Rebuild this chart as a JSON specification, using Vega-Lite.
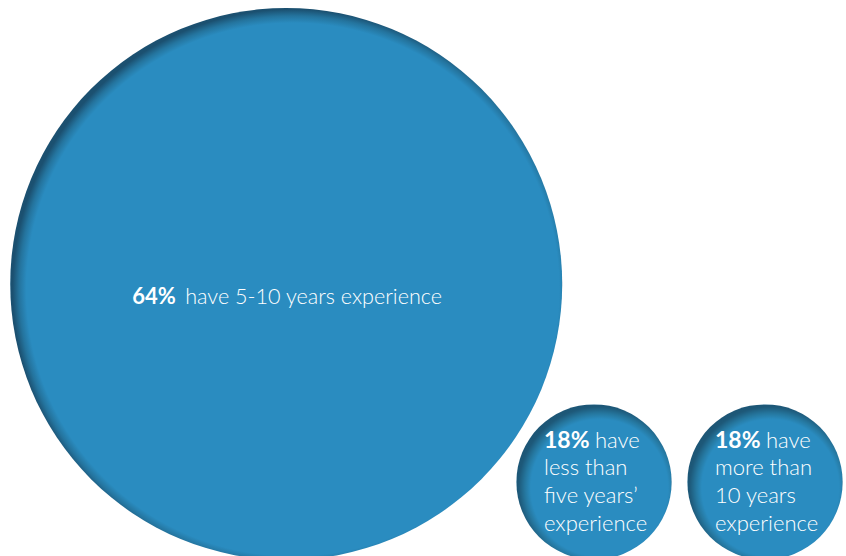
{
  "$schema": "https://vega.github.io/schema/vega-lite/v6.json",
  "width": 846,
  "height": 556,
  "padding": 0,
  "autosize": {"type": "none"},
  "background": "white",
  "config": {"view": {"stroke": null}},
  "data": {"values": [
    {"group": "5-10 years", "percent": 64, "pct": "64%", "head": "have 5-10 years experience", "body": ""},
    {"group": "less than 5 years", "percent": 18, "pct": "18%", "head": "have", "body": "less than\nfive years’\nexperience"},
    {"group": "more than 10 years", "percent": 18, "pct": "18%", "head": "have", "body": "more than\n10 years\nexperience"}
  ]},
  "encoding": {
    "y": {"field": "percent", "type": "quantitative", "scale": {"domain": [0.81, 129.98], "zero": false, "nice": false}, "axis": null}
  },
  "layer": [
    {
      "transform": [{"filter": "datum.percent > 50"}],
      "mark": {"type": "point", "shape": "circle", "filled": true, "opacity": 1, "strokeWidth": 0,
        "fill": {"gradient": "radial", "x1": 0.512, "y1": 0.51, "r1": 0, "x2": 0.512, "y2": 0.51, "r2": 0.53,
          "stops": [{"offset": 0, "color": "#2a8cc0"}, {"offset": 0.911, "color": "#2a8cc0"}, {"offset": 0.935, "color": "#24749e"}, {"offset": 0.958, "color": "#1b5070"}, {"offset": 1, "color": "#1b5070"}]}},
      "encoding": {
        "x": {"field": "group", "type": "nominal", "bandPosition": 0.2, "sort": ["5-10 years", "less than 5 years", "more than 10 years"], "scale": {"type": "band", "domain": ["5-10 years", "less than 5 years", "more than 10 years"], "paddingInner": 0, "paddingOuter": 0.9737, "align": 0.7568}, "axis": null},
        "size": {"field": "percent", "type": "quantitative", "scale": {"type": "pow", "exponent": 2, "domain": [0, 64], "range": [0, 304704], "zero": true}, "legend": null}
      }
    },
    {
      "transform": [{"filter": "datum.percent < 50"}],
      "mark": {"type": "point", "shape": "circle", "filled": true, "opacity": 1, "strokeWidth": 0,
        "fill": {"gradient": "radial", "x1": 0.535, "y1": 0.538, "r1": 0, "x2": 0.535, "y2": 0.538, "r2": 0.6,
          "stops": [{"offset": 0, "color": "#2a8cc0"}, {"offset": 0.737, "color": "#2a8cc0"}, {"offset": 0.8, "color": "#25779f"}, {"offset": 0.87, "color": "#1d5878"}, {"offset": 1, "color": "#1b5070"}]}},
      "encoding": {
        "x": {"field": "group", "type": "nominal", "bandPosition": 1, "axis": null},
        "size": {"field": "percent", "type": "quantitative", "legend": null}
      }
    },
    {
      "transform": [{"filter": "datum.percent > 50"}],
      "mark": {"type": "text", "align": "left", "baseline": "alphabetic", "dx": -154, "dy": 20, "font": "Lato", "fontSize": 22, "fontWeight": "bold", "color": "white"},
      "encoding": {"x": {"field": "group", "type": "nominal", "bandPosition": 0.2, "axis": null}, "text": {"field": "pct"}}
    },
    {
      "transform": [{"filter": "datum.percent > 50"}],
      "mark": {"type": "text", "align": "left", "baseline": "alphabetic", "dx": -101, "dy": 20, "font": "Lato", "fontSize": 21.6, "fontWeight": 300, "color": "white"},
      "encoding": {"x": {"field": "group", "type": "nominal", "bandPosition": 0.2, "axis": null}, "text": {"field": "head"}}
    },
    {
      "transform": [{"filter": "datum.percent < 50"}],
      "mark": {"type": "text", "align": "left", "baseline": "alphabetic", "dx": -50, "dy": -34, "font": "Lato", "fontSize": 23, "fontWeight": "bold", "color": "white"},
      "encoding": {"x": {"field": "group", "type": "nominal", "bandPosition": 1, "axis": null}, "text": {"field": "pct"}}
    },
    {
      "transform": [{"filter": "datum.percent < 50"}],
      "mark": {"type": "text", "align": "left", "baseline": "alphabetic", "dx": 1, "dy": -34, "font": "Lato", "fontSize": 22, "fontWeight": 300, "color": "white"},
      "encoding": {"x": {"field": "group", "type": "nominal", "bandPosition": 1, "axis": null}, "text": {"field": "head"}}
    },
    {
      "transform": [{"filter": "datum.percent < 50"}],
      "mark": {"type": "text", "align": "left", "baseline": "alphabetic", "dx": -50, "dy": -7, "lineBreak": "\n", "lineHeight": 28, "font": "Lato", "fontSize": 22, "fontWeight": 300, "color": "white"},
      "encoding": {"x": {"field": "group", "type": "nominal", "bandPosition": 1, "axis": null}, "text": {"field": "body"}}
    }
  ],
  "resolve": {"scale": {"size": "shared", "x": "shared"}}
}
